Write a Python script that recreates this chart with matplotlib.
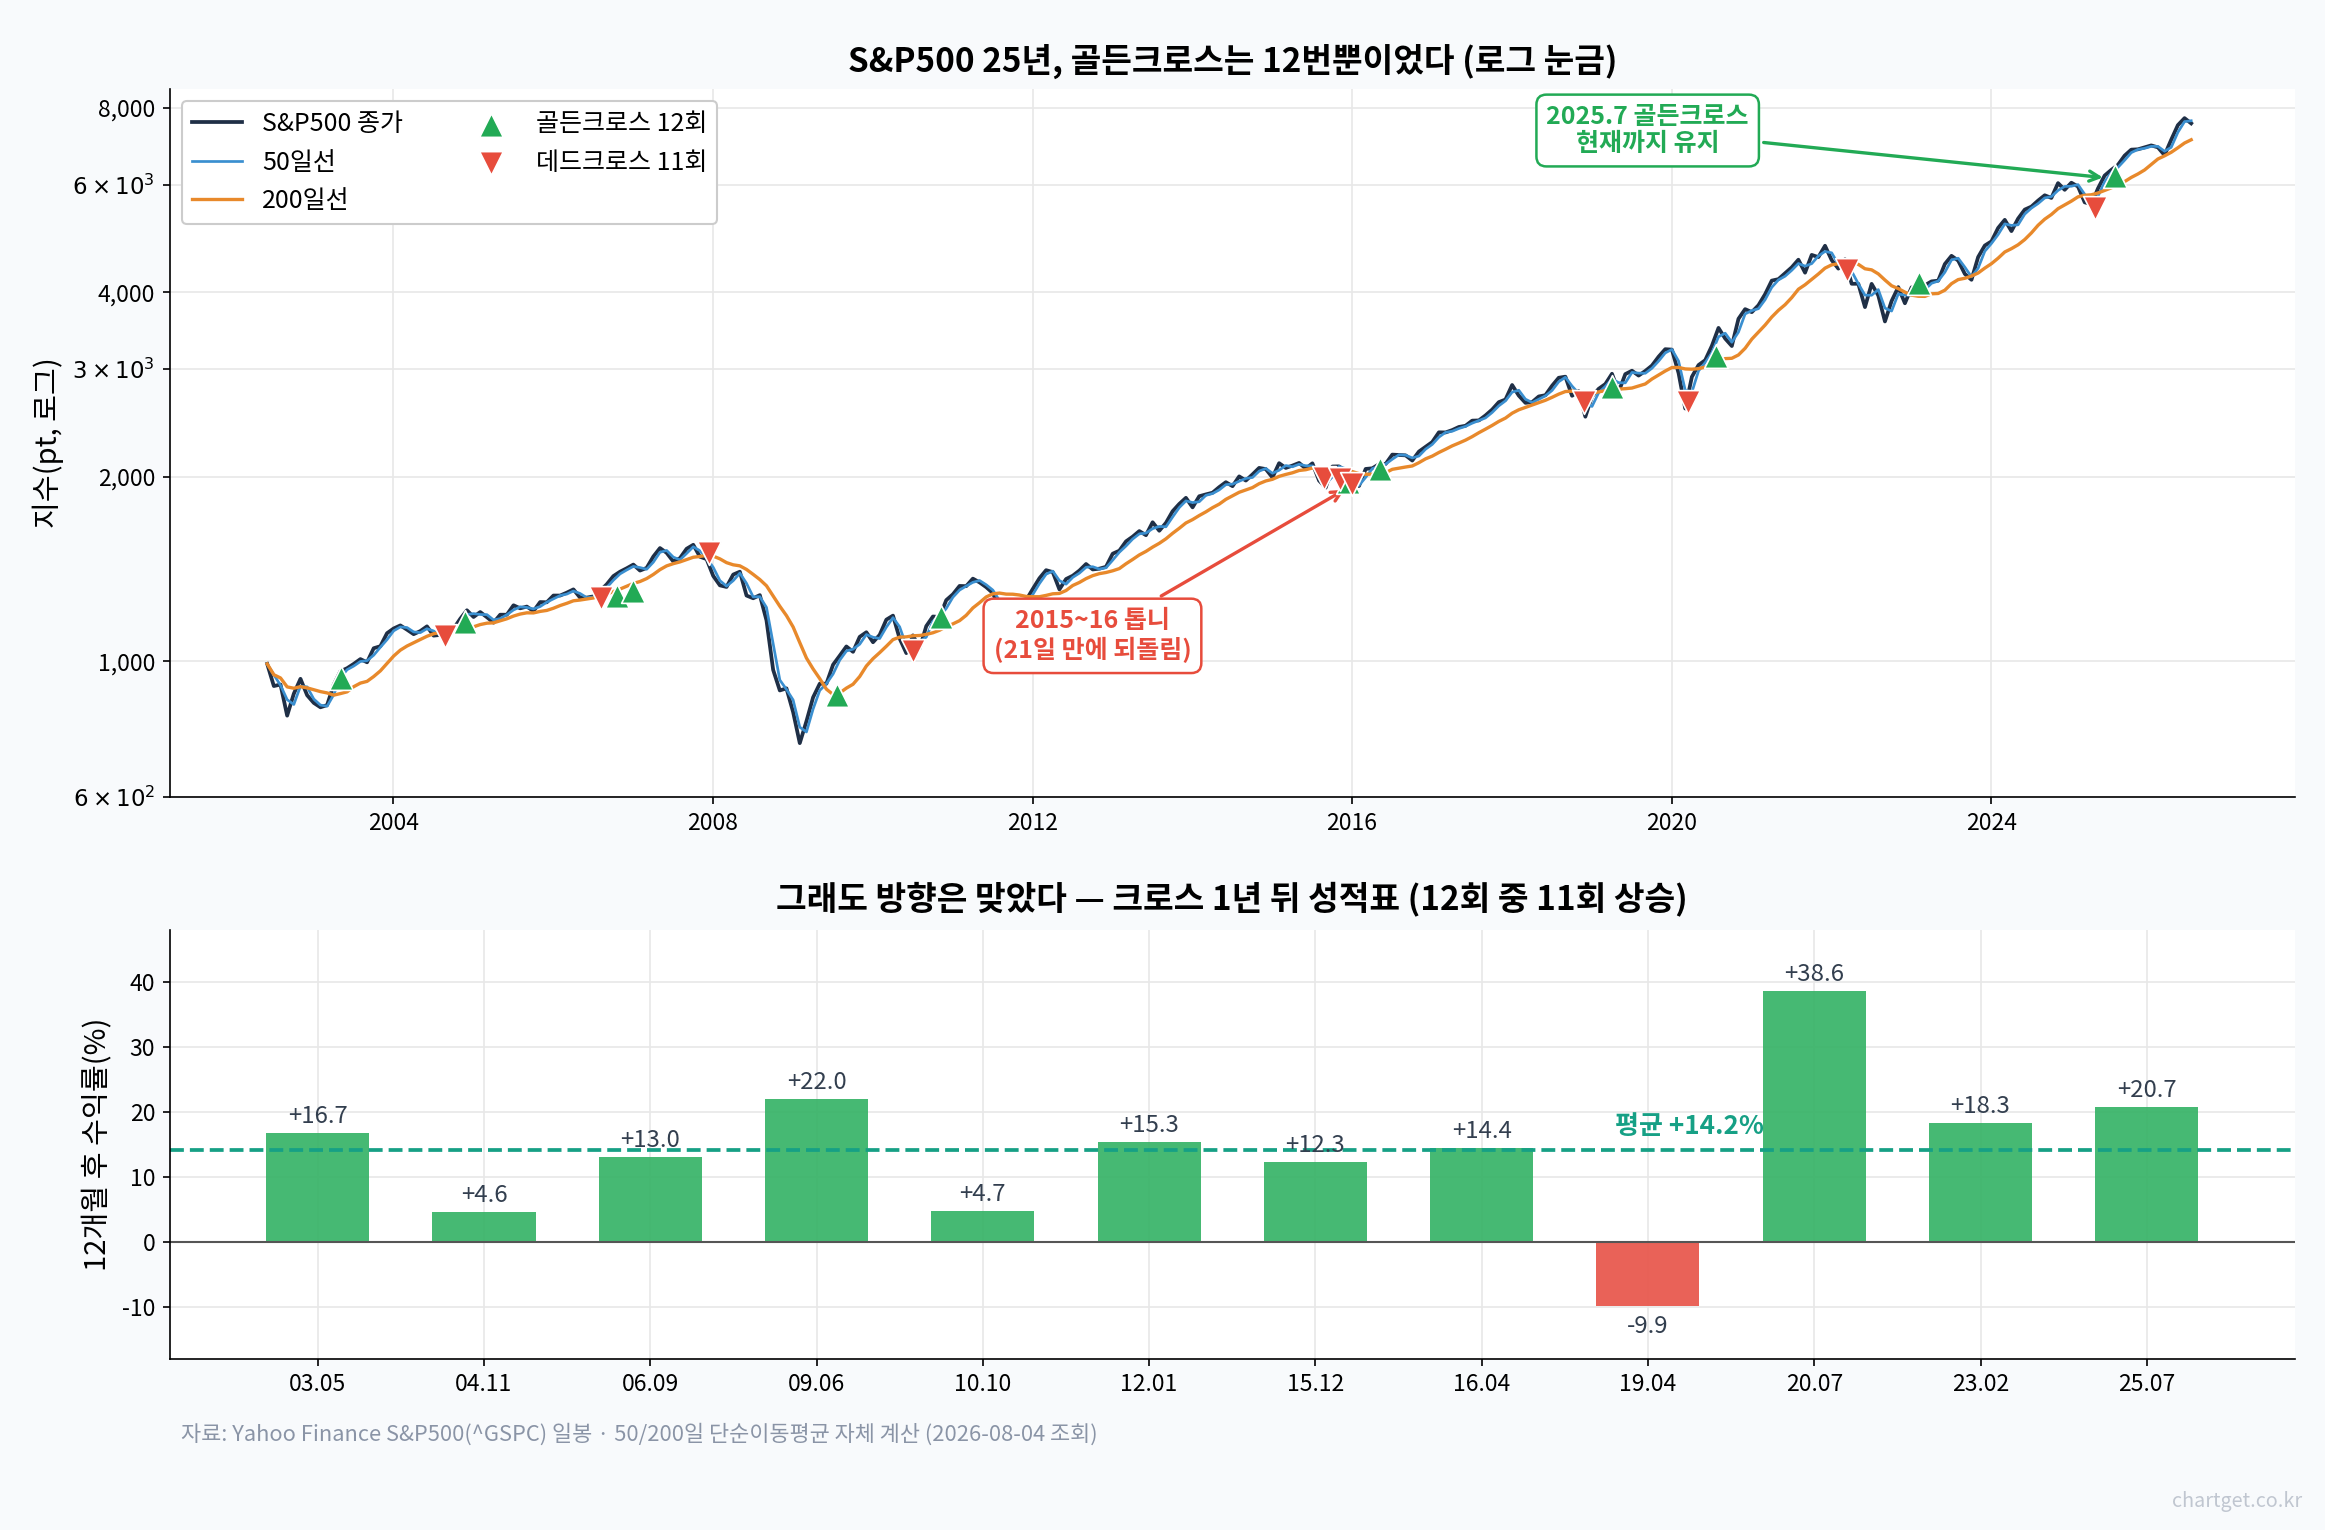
import numpy as np
import matplotlib
matplotlib.use("Agg")
import matplotlib.pyplot as plt

plt.rcParams['font.family'] = ['Noto Sans CJK KR', 'DejaVu Sans']
plt.rcParams['axes.unicode_minus'] = False

# ---- monthly closes (approx.) from 2002-06 to 2026-07 ----
closes = [
 990, 911, 916, 815, 885, 936, 880,
 855, 841, 848, 916, 963, 974, 990, 1008, 996, 1050, 1058, 1111,
 1131, 1144, 1126, 1107, 1120, 1140, 1101, 1104, 1114, 1130, 1173, 1211,
 1181, 1203, 1180, 1156, 1191, 1191, 1234, 1220, 1228, 1207, 1249, 1248,
 1280, 1280, 1294, 1310, 1270, 1270, 1276, 1303, 1335, 1377, 1400, 1418,
 1438, 1406, 1420, 1482, 1530, 1503, 1455, 1473, 1526, 1549, 1481, 1468,
 1378, 1330, 1322, 1385, 1400, 1280, 1267, 1282, 1166, 968, 896, 903,
 826, 735, 798, 873, 919, 919, 987, 1021, 1057, 1036, 1096, 1115,
 1074, 1104, 1169, 1187, 1089, 1031, 1102, 1049, 1141, 1183, 1181, 1258,
 1286, 1327, 1326, 1364, 1345, 1321, 1292, 1219, 1131, 1253, 1247, 1258,
 1312, 1366, 1408, 1398, 1310, 1362, 1379, 1406, 1441, 1412, 1416, 1426,
 1498, 1515, 1569, 1597, 1631, 1606, 1686, 1633, 1682, 1757, 1806, 1848,
 1783, 1859, 1872, 1884, 1924, 1960, 1931, 2003, 1972, 2018, 2068, 2059,
 1995, 2105, 2068, 2086, 2107, 2063, 2104, 1972, 1920, 2079, 2080, 2044,
 1940, 1932, 2060, 2065, 2097, 2099, 2174, 2171, 2168, 2126, 2199, 2239,
 2279, 2364, 2363, 2384, 2412, 2423, 2470, 2472, 2519, 2575, 2648, 2674,
 2824, 2714, 2641, 2648, 2705, 2718, 2816, 2902, 2914, 2712, 2760, 2507,
 2704, 2784, 2834, 2946, 2752, 2942, 2980, 2926, 2977, 3038, 3141, 3231,
 3226, 2954, 2585, 2912, 3044, 3100, 3271, 3500, 3363, 3270, 3622, 3756,
 3714, 3811, 3973, 4181, 4204, 4298, 4395, 4523, 4308, 4605, 4567, 4766,
 4516, 4374, 4530, 4132, 4132, 3785, 4130, 3955, 3586, 3872, 4080, 3840,
 4077, 3970, 4109, 4169, 4180, 4450, 4589, 4508, 4288, 4194, 4568, 4770,
 4846, 5096, 5254, 5036, 5278, 5460, 5522, 5648, 5762, 5705, 6032, 5882,
 6041, 5955, 5612, 5569, 5912, 6205, 6339, 6460, 6688, 6840, 6849, 6900,
 6950, 6900, 6700, 7100, 7500, 7700, 7550,
]
start_year = 2002.42

golden_x = [2003.35, 2004.9, 2006.8, 2007.0, 2009.55, 2010.85, 2015.95, 2016.35, 2019.25, 2020.55, 2023.1, 2025.55]
golden_y = [940, 1160, 1280, 1300, 880, 1180, 1960, 2060, 2800, 3150, 4150, 6200]
dead_x = [2004.65, 2006.6, 2007.95, 2010.5, 2015.65, 2015.85, 2016.0, 2018.9, 2020.2, 2022.2, 2025.3]
dead_y = [1100, 1270, 1500, 1040, 1990, 1980, 1950, 2650, 2650, 4350, 5500]

bar_labels = ['03.05', '04.11', '06.09', '09.06', '10.10', '12.01', '15.12', '16.04', '19.04', '20.07', '23.02', '25.07']
bar_values = [16.7, 4.6, 13.0, 22.0, 4.7, 15.3, 12.3, 14.4, -9.9, 38.6, 18.3, 20.7]
avg_ret = 14.2

closes = np.array(closes, float)
x = start_year + np.arange(len(closes)) / 12.0

def roll(a, w):
    out = np.empty_like(a)
    for i in range(len(a)):
        out[i] = a[max(0, i - w + 1):i + 1].mean()
    return out
ma50 = roll(closes, 2)
ma200 = roll(closes, 10)

BG = '#f8fafc'
fig = plt.figure(figsize=(15.5, 10.2), dpi=150, facecolor=BG)
ax1 = fig.add_axes([0.073, 0.479, 0.914, 0.463])
ax2 = fig.add_axes([0.073, 0.112, 0.914, 0.28])
for ax in (ax1, ax2):
    ax.set_facecolor('white')
    ax.grid(True, color='#e8e8e8', lw=0.8)
    ax.set_axisbelow(True)
    for s in ('top', 'right'):
        ax.spines[s].set_visible(False)

ax1.plot(x, closes, color='#1f2f46', lw=1.8, label='S&P500 종가')
ax1.plot(x, ma50, color='#3a8fd0', lw=1.3, label='50일선')
ax1.plot(x, ma200, color='#e8892b', lw=1.6, label='200일선')
ax1.scatter(golden_x, golden_y, marker='^', s=130, color='#22aa55', zorder=5, edgecolor='white', lw=0.8, label='골든크로스 12회')
ax1.scatter(dead_x, dead_y, marker='v', s=130, color='#e74c3c', zorder=5, edgecolor='white', lw=0.8, label='데드크로스 11회')
ax1.set_yscale('log')
ax1.set_ylim(600, 8600)
ax1.set_xlim(2001.2, 2027.8)
ax1.yaxis.set_minor_locator(matplotlib.ticker.NullLocator())
ax1.set_yticks([600, 1000, 2000, 3000, 4000, 6000, 8000])
ax1.set_yticklabels([r'$6\times10^{2}$', '1,000', '2,000', r'$3\times10^{3}$', '4,000', r'$6\times10^{3}$', '8,000'])
ax1.set_xticks([2004, 2008, 2012, 2016, 2020, 2024])
ax1.tick_params(labelsize=11)
ax1.set_ylabel('지수(pt, 로그)', fontsize=14)
ax1.set_title('S&P500 25년, 골든크로스는 12번뿐이었다 (로그 눈금)', fontsize=16, fontweight='bold', pad=8)
ax1.legend(loc='upper left', ncol=2, fontsize=12, frameon=True, framealpha=1, edgecolor='#cccccc', columnspacing=2.5)

ax1.annotate('2025.7 골든크로스\n현재까지 유지', xy=(2025.45, 6150), xytext=(2019.7, 7350),
             ha='center', va='center', fontsize=12, fontweight='bold', color='#22aa55',
             bbox=dict(boxstyle='round,pad=0.4', fc='white', ec='#22aa55', lw=1.2),
             arrowprops=dict(arrowstyle='->', color='#22aa55', lw=1.6))
ax1.annotate('2015~16 톱니\n(21일 만에 되돌림)', xy=(2015.95, 1920), xytext=(2012.75, 1100),
             ha='center', va='center', fontsize=12, fontweight='bold', color='#e74c3c',
             bbox=dict(boxstyle='round,pad=0.4', fc='white', ec='#e74c3c', lw=1.2),
             arrowprops=dict(arrowstyle='->', color='#e74c3c', lw=1.6))

pos = np.arange(len(bar_values))
cols = ['#3cb56b' if v >= 0 else '#e85a4f' for v in bar_values]
ax2.bar(pos, bar_values, width=0.62, color=cols, alpha=0.95)
for p, v in zip(pos, bar_values):
    ax2.text(p, v + (0.8 if v >= 0 else -1.4), f'{v:+.1f}', ha='center', va='bottom' if v >= 0 else 'top',
             fontsize=11.5, color='#333f4f')
ax2.axhline(0, color='#555555', lw=1)
ax2.axhline(avg_ret, color='#16a085', lw=1.8, ls='--')
ax2.text(7.8, avg_ret + 1.5, f'평균 +{avg_ret}%', fontsize=12.5, fontweight='bold', color='#16a085', va='bottom')
ax2.set_xticks(pos)
ax2.set_xticklabels(bar_labels)
ax2.set_xlim(-0.89, 11.89)
ax2.set_ylim(-18, 48)
ax2.set_yticks([-10, 0, 10, 20, 30, 40])
ax2.tick_params(labelsize=11)
ax2.set_ylabel('12개월 후 수익률(%)', fontsize=14)
ax2.set_title('그래도 방향은 맞았다 — 크로스 1년 뒤 성적표 (12회 중 11회 상승)', fontsize=16, fontweight='bold', pad=10)

fig.text(0.078, 0.058, '자료: Yahoo Finance S&P500(^GSPC) 일봉 · 50/200일 단순이동평균 자체 계산 (2026-08-04 조회)',
         fontsize=10.5, color='#8a94a6')
fig.text(0.99, 0.015, 'chartget.co.kr', fontsize=9.5, color='#c0c6d0', ha='right')

fig.savefig('out.png', dpi=150, facecolor=BG)
